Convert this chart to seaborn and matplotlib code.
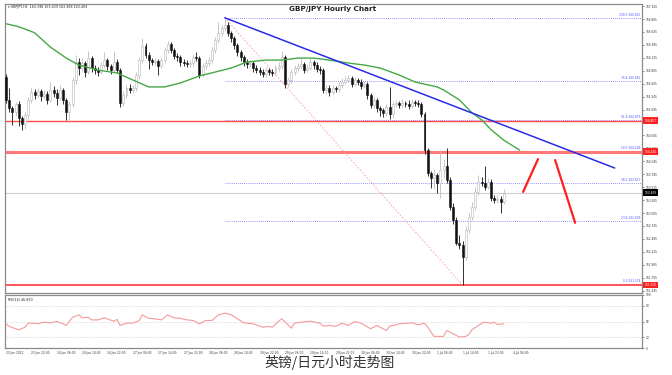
import matplotlib
matplotlib.use("Agg")
import matplotlib.pyplot as plt
import matplotlib.transforms as mtransforms
import seaborn as sns
import pandas as pd


# GBP/JPY H1 candles (open of first bar, then closes / highs / lows)
first_open = 165.74
closes = [165.28, 165.12, 165.04, 165.20, 164.92, 164.80, 164.98, 165.28, 165.44, 165.38,
          165.46, 165.36, 165.40, 165.28, 165.48, 165.42, 165.32, 165.48, 165.28, 165.04,
          165.20, 165.68, 166.04, 165.92, 166.02, 165.84, 166.12, 165.92, 165.88, 165.84,
          165.98, 166.08, 165.96, 165.88, 166.04, 165.88, 165.22, 165.38, 165.52, 165.48,
          165.52, 165.78, 166.08, 166.36, 166.18, 166.08, 166.04, 166.06, 165.96, 166.08,
          166.28, 166.40, 166.28, 166.16, 166.14, 166.04, 166.03, 166.00, 166.02, 166.14,
          166.12, 165.78, 165.96, 166.02, 166.08, 166.28, 166.48, 166.62, 166.72, 166.79,
          166.62, 166.52, 166.38, 166.24, 166.14, 166.04, 166.00, 166.02, 165.92, 165.88,
          165.84, 165.80, 165.88, 165.84, 165.82, 165.92, 165.96, 166.14, 165.60, 165.68,
          165.84, 165.92, 165.96, 166.00, 165.88, 165.92, 166.04, 165.98, 165.90, 165.88,
          165.48, 165.52, 165.44, 165.52, 165.50, 165.58, 165.64, 165.68, 165.72, 165.60,
          165.68, 165.64, 165.56, 165.60, 165.38, 165.18, 165.28, 165.12, 165.08, 165.02,
          165.14, 165.00, 165.20, 165.22, 165.18, 165.22, 165.20, 165.16, 165.24, 165.22,
          165.20, 165.00, 164.27, 163.81, 163.71, 163.77, 163.61, 163.87, 163.95, 163.67,
          163.13, 162.87, 162.41, 162.37, 162.12, 162.67, 162.93, 163.13, 163.43, 163.63,
          163.61, 163.53, 163.63, 163.31, 163.27, 163.29, 163.23, 163.41]
highs = [165.80, 165.52, 165.16, 165.24, 165.26, 164.96, 165.04, 165.34, 165.52, 165.50,
         165.52, 165.50, 165.48, 165.46, 165.64, 165.56, 165.50, 165.58, 165.52, 165.32,
         165.26, 165.74, 166.18, 166.12, 166.12, 166.06, 166.26, 166.16, 165.98, 165.94,
         166.04, 166.24, 166.12, 166.00, 166.26, 166.10, 165.92, 165.46, 165.58, 165.60,
         165.58, 165.84, 166.14, 166.52, 166.42, 166.24, 166.12, 166.12, 166.10, 166.14,
         166.34, 166.46, 166.44, 166.32, 166.22, 166.18, 166.10, 166.08, 166.08, 166.20,
         166.24, 166.16, 166.02, 166.08, 166.14, 166.34, 166.54, 166.85, 166.78, 166.93,
         166.84, 166.66, 166.56, 166.42, 166.28, 166.18, 166.10, 166.08, 166.06, 165.98,
         165.94, 165.90, 165.94, 165.92, 165.90, 165.98, 166.04, 166.26, 166.18, 165.74,
         165.90, 165.98, 166.02, 166.10, 166.04, 165.98, 166.12, 166.08, 166.04, 165.96,
         165.92, 165.58, 165.58, 165.58, 165.56, 165.64, 165.72, 165.76, 165.78, 165.76,
         165.74, 165.72, 165.70, 165.66, 165.64, 165.42, 165.34, 165.32, 165.16, 165.12,
         165.20, 165.54, 165.26, 165.28, 165.26, 165.30, 165.26, 165.28, 165.30, 165.28,
         165.28, 165.24, 165.04, 164.32, 163.86, 163.90, 163.82, 164.27, 164.10, 164.31,
         163.72, 163.20, 162.92, 162.57, 162.44, 162.74, 163.00, 163.22, 163.52, 163.77,
         163.72, 163.95, 163.70, 163.68, 163.36, 163.36, 163.34, 163.48]
lows = [165.22, 165.04, 164.78, 164.96, 164.76, 164.68, 164.70, 164.90, 165.22, 165.30,
        165.32, 165.26, 165.30, 165.20, 165.24, 165.34, 165.18, 165.28, 165.20, 164.88,
        164.84, 165.14, 165.60, 165.78, 165.86, 165.74, 165.80, 165.84, 165.80, 165.76,
        165.80, 165.92, 165.88, 165.80, 165.84, 165.82, 165.14, 165.16, 165.32, 165.42,
        165.42, 165.46, 165.70, 166.02, 166.12, 165.90, 165.98, 165.98, 165.78, 165.92,
        166.02, 166.22, 166.22, 166.10, 166.06, 165.96, 165.96, 165.94, 165.94, 165.96,
        166.06, 165.72, 165.74, 165.90, 165.96, 166.02, 166.22, 166.42, 166.56, 166.66,
        166.56, 166.44, 166.30, 166.16, 166.06, 165.96, 165.92, 165.94, 165.84, 165.82,
        165.78, 165.74, 165.74, 165.78, 165.76, 165.78, 165.86, 165.90, 165.52, 165.54,
        165.62, 165.78, 165.86, 165.90, 165.82, 165.84, 165.88, 165.90, 165.84, 165.80,
        165.42, 165.40, 165.36, 165.40, 165.44, 165.44, 165.52, 165.60, 165.62, 165.54,
        165.56, 165.58, 165.50, 165.52, 165.30, 165.12, 165.12, 165.04, 164.96, 164.94,
        164.96, 164.90, 164.92, 165.14, 165.12, 165.12, 165.14, 165.10, 165.12, 165.16,
        165.14, 164.94, 164.20, 163.74, 163.50, 163.48, 163.40, 163.30, 163.70, 163.60,
        163.06, 162.78, 162.36, 162.28, 161.56, 162.06, 162.60, 162.86, 163.06, 163.36,
        163.54, 163.46, 163.48, 163.24, 163.20, 163.20, 163.01, 163.18]

# moving average (green), read at some bars
ma_bars = [0, 4, 9, 14, 19, 23, 29, 35, 40, 45, 50, 55, 61, 66, 71, 76, 82, 87, 92, 97,
           102, 108, 113, 118, 124, 129, 136, 138, 143, 147, 150, 153, 157, 162]
ma_vals = [166.81, 166.75, 166.63, 166.34, 166.12, 165.98, 165.88, 165.82, 165.68, 165.54,
           165.54, 165.62, 165.76, 165.84, 165.92, 166.04, 166.08, 166.08, 166.12, 166.12,
           166.08, 166.02, 165.98, 165.92, 165.78, 165.64, 165.54, 165.48, 165.28, 165.02,
           164.88, 164.68, 164.47, 164.27]

# RSI(14)
rsi_bars = [0, 1, 4, 6, 7, 9, 10, 12, 14, 16, 18, 19, 21, 23, 24, 26, 27, 29, 31, 34,
            35, 36, 38, 40, 42, 43, 45, 47, 49, 51, 53, 55, 57, 59, 61, 63, 65, 67, 69, 71,
            73, 75, 78, 81, 83, 84, 86, 87, 90, 91, 93, 96, 99, 100, 102, 104, 106, 108, 110, 112,
            115, 117, 120, 121, 123, 124, 128, 130, 132, 133, 135, 138, 139, 141, 143, 145, 146, 147,
            150, 151, 153, 154, 155, 157]
rsi_vals = [45.7, 40.6, 34.4, 39.3, 46.8, 46.8, 45.6, 48.7, 47.5, 50, 45.6, 42.5, 58, 62.5, 57,
            58, 53, 53, 57, 50.6, 53.8, 42.5, 46.8, 46.8, 52, 62.5, 56, 55, 53, 62.5,
            57, 56, 53, 52, 45.6, 52, 52, 62.5, 65.6, 63, 55, 47.5, 45.6, 39.3, 40.6,
            39.3, 50.6, 55, 37.4, 46.8, 48.7, 50.6, 46.8, 41.2, 42.5, 41, 46.8, 42.5, 50, 46.8,
            36.3, 42.5, 33, 41.2, 43.8, 45.6, 47.5, 43.8, 46.8, 39.3, 21.9, 21.9, 33, 27,
            20.6, 21.9, 25.6, 34.4, 46.8, 48.7, 46.8, 48.7, 44.4, 45.7]

# drawings
trend_bars = [69, 192]
trend_prices = [166.93, 163.91]
swing_bars = [69, 144]
swing_prices = [166.93, 161.56]
fib_names = ["100.0", "76.4", "61.8", "50.0", "38.2", "23.6", "0.0"]
fib_levels = [166.922, 165.660, 164.879, 164.248, 163.617, 162.836, 161.574]
red_levels = [164.857, 164.240, 161.558]
red_widths = [1.0, 2.2, 1.3]
last_price = 163.409
proj_up_bars = [163.1, 167.8]
proj_up_prices = [163.43, 164.09]
proj_dn_bars = [173.2, 179.5]
proj_dn_prices = [164.07, 162.81]

price_ticks = [167.160, 166.905, 166.645, 166.385, 166.125, 165.865, 165.605, 165.345,
               165.085, 164.825, 164.565, 164.305, 164.045, 163.785, 163.525, 163.265,
               163.005, 162.745, 162.485, 162.225, 161.965, 161.705, 161.445]
time_labels = ["23 Jun 2022", "23 Jun 22:00", "24 Jun 06:00", "24 Jun 14:00", "24 Jun 22:00",
               "27 Jun 06:00", "27 Jun 14:00", "27 Jun 22:00", "28 Jun 06:00", "28 Jun 14:00",
               "28 Jun 22:00", "29 Jun 06:00", "29 Jun 14:00", "29 Jun 22:00", "30 Jun 06:00",
               "30 Jun 14:00", "30 Jun 22:00", "1 Jul 06:00", "1 Jul 14:00", "1 Jul 22:00",
               "4 Jul 06:00"]

sns.set_style("white")
plt.rcParams['font.family'] = ['DejaVu Sans', 'Noto Sans CJK SC']

df = pd.DataFrame({"close": closes, "high": highs, "low": lows})
df["open"] = [first_open] + closes[:-1]
df["bar"] = range(len(df))
df["up"] = df["close"] >= df["open"]
df["body_lo"] = df[["open", "close"]].min(axis=1)
df["body_h"] = (df["close"] - df["open"]).abs()

W, H = 672, 375
fig = plt.figure(figsize=(W / 100, H / 100), dpi=100)
ax = fig.add_axes([5 / W, 1 - 293 / H, 637 / W, 289 / H])
ax_rsi = fig.add_axes([5 / W, 1 - 348 / H, 637 / W, 53 / H])
xlim = (-0.32, 200.6)

#  price panel
ax.axhline(last_price, color="#cfcfcf", lw=0.8, zorder=1)
ax.hlines(fib_levels, swing_bars[0], xlim[1], colors="#6f6fff", lw=0.6,
          linestyles=(0, (1, 1.5)), zorder=1)
for lvl, lw in zip(red_levels, red_widths):
    ax.axhline(lvl, color="#ff4848" if lw < 2 else "#ff7878", lw=lw, zorder=2)

up = df[df["up"]]
dn = df[~df["up"]]
ax.vlines(up["bar"], up["low"], up["high"], color="#bdbdbd", lw=0.6, zorder=3)
ax.vlines(dn["bar"], dn["low"], dn["high"], color="#111111", lw=0.6, zorder=3)
ax.bar(up["bar"], up["body_h"], bottom=up["body_lo"], width=0.62, color="white",
       edgecolor="#b5b5b5", lw=0.4, zorder=4)
ax.bar(dn["bar"], dn["body_h"], bottom=dn["body_lo"], width=0.62, color="#111111",
       edgecolor="#111111", lw=0.4, zorder=4)

sns.lineplot(x=ma_bars, y=ma_vals, ax=ax, color="#45a845", lw=1.0, zorder=5)
sns.lineplot(x=trend_bars, y=trend_prices, ax=ax, color="#2a2ae8", lw=1.1, zorder=5)
ax.plot(swing_bars, swing_prices, color="#ff9a9a", lw=0.6, ls=(0, (2, 2)), zorder=2)
sns.lineplot(x=proj_up_bars, y=proj_up_prices, ax=ax, color="#ff2020", lw=1.6, zorder=6)
sns.lineplot(x=proj_dn_bars, y=proj_dn_prices, ax=ax, color="#ff2020", lw=1.6, zorder=6)

ax.set_xlim(*xlim)
ax.set_ylim(161.398, 167.207)
ax.set_xticks([])
ax.yaxis.tick_right()
ax.set_yticks(price_ticks)
ax.set_yticklabels([f"{p:.3f}" for p in price_ticks])
ax.tick_params(axis="y", labelsize=2.1, length=1.5, width=0.4, pad=1, colors="#333333")
ax.set_xlabel("")
ax.set_ylabel("")

tr = mtransforms.blended_transform_factory(ax.transAxes, ax.transData)
for name, lvl in zip(fib_names, fib_levels):
    ax.text(0.997, lvl + 0.02, f"{name} {lvl:.3f}", transform=tr, ha="right", va="bottom",
            fontsize=2.1, color="#5050ff")
for lvl in red_levels:
    ax.text(1.004, lvl, f"{lvl:.3f}", transform=tr, ha="left", va="center", fontsize=2.1,
            color="white", bbox=dict(boxstyle="square,pad=0.5", fc="#ff2020", ec="none"),
            clip_on=False)
ax.text(1.004, last_price, f"{last_price:.3f}", transform=tr, ha="left", va="center",
        fontsize=2.1, color="white", bbox=dict(boxstyle="square,pad=0.5", fc="black", ec="none"),
        clip_on=False)
ax.text(0.004, 0.995, "\u25be GBPJPY,H1  163.398 163.439 163.388 163.409", transform=ax.transAxes,
        ha="left", va="top", fontsize=2.3, color="#222222")

#  RSI panel
ax_rsi.hlines([80, 50, 20], xlim[0], xlim[1], colors="#c4c4c4", lw=0.5, linestyles=(0, (1, 1.5)))
sns.lineplot(x=rsi_bars, y=rsi_vals, ax=ax_rsi, color="#f49a9a", lw=0.8)
ax_rsi.set_xlim(*xlim)
ax_rsi.set_ylim(0, 100)
ax_rsi.yaxis.tick_right()
ax_rsi.set_yticks([100, 80, 50, 20, 0])
ax_rsi.tick_params(axis="y", labelsize=2.1, length=1.5, width=0.4, pad=1, colors="#333333")
ax_rsi.set_xticks(range(0, 8 * len(time_labels), 8))
ax_rsi.set_xticklabels(time_labels, ha="left")
ax_rsi.tick_params(axis="x", labelsize=2.1, length=1.5, width=0.4, pad=1, colors="#333333")
ax_rsi.set_xlabel("")
ax_rsi.set_ylabel("")
ax_rsi.text(0.004, 0.95, "RSI(14) 46.890", transform=ax_rsi.transAxes, ha="left", va="top",
            fontsize=2.3, color="#222222")

for a in (ax, ax_rsi):
    for s in a.spines.values():
        s.set_color("#8a8a8a")
        s.set_linewidth(0.9)

fig.text(333 / W, 1 - 9.5 / H, "GBP/JPY Hourly Chart", ha="center", va="center",
         fontsize=5.2, fontweight="bold", color="#222222")
fig.text(330 / W, 1 - 362 / H, "英镑/日元小时走势图", ha="center", va="center",
         fontsize=10, color="#333333", family=["Noto Sans CJK SC", "DejaVu Sans"])

fig.savefig("out.png", dpi=100, facecolor="white")
